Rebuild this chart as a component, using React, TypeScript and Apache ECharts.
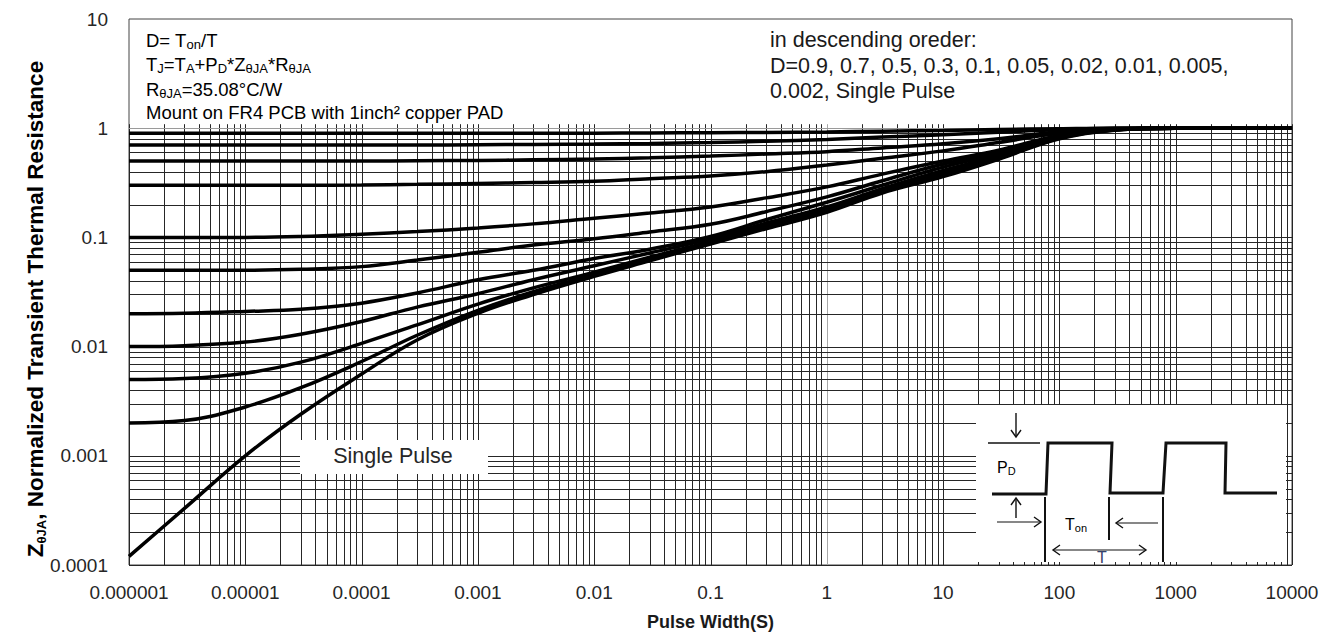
import React, { useEffect, useRef } from "react";
import * as echarts from "echarts";

// ---------- data ----------
const pulseWidth = [1e-6, 3e-6, 1e-5, 3e-5, 1e-4, 3e-4, 1e-3, 3e-3, 1e-2, 3e-2, 1e-1, 3e-1, 1, 3, 10, 30, 100, 300, 1000, 10000];

const dutyNames = ["D=0.9", "D=0.7", "D=0.5", "D=0.3", "D=0.1", "D=0.05", "D=0.02", "D=0.01", "D=0.005", "D=0.002", "Single Pulse"];

const curveD09 = [0.9, 0.9, 0.9, 0.9, 0.9, 0.9, 0.9, 0.9, 0.9, 0.905, 0.91, 0.915, 0.925, 0.94, 0.955, 0.975, 0.99, 1, 1, 1];
const curveD07 = [0.7, 0.7, 0.7, 0.7, 0.7, 0.7, 0.705, 0.71, 0.715, 0.725, 0.74, 0.76, 0.79, 0.83, 0.87, 0.92, 0.97, 1, 1, 1];
const curveD05 = [0.5, 0.5, 0.5, 0.5, 0.5, 0.503, 0.507, 0.513, 0.522, 0.535, 0.555, 0.58, 0.61, 0.66, 0.72, 0.8, 0.93, 0.995, 1, 1];
const curveD03 = [0.3, 0.3, 0.3, 0.3, 0.302, 0.306, 0.312, 0.318, 0.327, 0.345, 0.365, 0.4, 0.46, 0.53, 0.62, 0.74, 0.9, 0.99, 1, 1];
const curveD01 = [0.1, 0.1, 0.1, 0.102, 0.107, 0.113, 0.122, 0.133, 0.15, 0.167, 0.19, 0.23, 0.29, 0.38, 0.5, 0.63, 0.86, 0.985, 1, 1];
const curveD005 = [0.05, 0.05, 0.05, 0.051, 0.054, 0.062, 0.073, 0.085, 0.097, 0.112, 0.132, 0.172, 0.235, 0.33, 0.47, 0.6, 0.85, 0.98, 1, 1];
const curveD002 = [0.02, 0.0202, 0.021, 0.022, 0.025, 0.031, 0.041, 0.05, 0.064, 0.078, 0.102, 0.145, 0.21, 0.3, 0.44, 0.58, 0.84, 0.975, 1, 1];
const curveD001 = [0.01, 0.0102, 0.011, 0.013, 0.017, 0.023, 0.0305, 0.041, 0.055, 0.072, 0.097, 0.135, 0.19, 0.28, 0.41, 0.56, 0.83, 0.97, 1, 1];
const curveD0005 = [0.005, 0.0051, 0.0057, 0.0072, 0.0107, 0.0158, 0.0245, 0.0345, 0.048, 0.066, 0.092, 0.128, 0.18, 0.27, 0.39, 0.54, 0.82, 0.97, 1, 1];
const curveD0002 = [0.002, 0.0021, 0.0028, 0.0042, 0.0073, 0.0127, 0.0215, 0.0318, 0.0455, 0.063, 0.089, 0.124, 0.175, 0.26, 0.37, 0.53, 0.81, 0.965, 1, 1];
const curveSingle = [0.00012, 0.00033, 0.001, 0.0024, 0.0056, 0.0115, 0.0202, 0.03, 0.044, 0.061, 0.087, 0.12, 0.17, 0.255, 0.36, 0.52, 0.8, 0.96, 1, 1];

const curves = [curveD09, curveD07, curveD05, curveD03, curveD01, curveD005, curveD002, curveD001, curveD0005, curveD0002, curveSingle];

const xTickLabels = ["0.000001", "0.00001", "0.0001", "0.001", "0.01", "0.1", "1", "10", "100", "1000", "10000"];
const yTickLabels = ["0.0001", "0.001", "0.01", "0.1", "1", "10"];
const xMinExp = -6;
const xMaxExp = 4;
const yMinExp = -4;
const yMaxExp = 1;
const gridMultipliers = [1, 2, 3, 4, 5, 6, 7, 8, 9];

const FONT = "'Liberation Sans', Arial, Helvetica, sans-serif";
const LABEL_BLUE = "#34406a";

function buildVGrid() {
  const out: number[][] = [];
  for (let e = xMinExp; e < xMaxExp; e++) {
    for (const m of gridMultipliers) {
      out.push([Math.log10(m) + e, 0, e === 0 && m === 1 ? 1 : 0]);
    }
  }
  out.push([xMaxExp, 0, 0]);
  return out;
}
function buildHGrid() {
  const out: number[][] = [];
  for (let e = yMinExp; e < 0; e++) {
    for (const m of gridMultipliers) {
      out.push([xMinExp, Math.log10(m) + e, 0]);
    }
  }
  out.push([xMinExp, 0, 1]);
  return out;
}

function chevron(tx: number, ty: number, dir: "up" | "down" | "left" | "right", z: number) {
  const w = 5;
  const l = 7;
  let pts: number[][];
  if (dir === "down") pts = [[tx - w, ty - l], [tx, ty], [tx + w, ty - l]];
  else if (dir === "up") pts = [[tx - w, ty + l], [tx, ty], [tx + w, ty + l]];
  else if (dir === "right") pts = [[tx - l, ty - w], [tx, ty], [tx - l, ty + w]];
  else pts = [[tx + l, ty - w], [tx, ty], [tx + l, ty + w]];
  return { type: "polyline", z, shape: { points: pts }, style: { stroke: "#111", lineWidth: 1.4, fill: null } };
}
function seg(x1: number, y1: number, x2: number, y2: number, w: number, z: number) {
  return { type: "line", z, shape: { x1, y1, x2, y2 }, style: { stroke: "#111", lineWidth: w } };
}

export default function App() {
  const ref = useRef<HTMLDivElement>(null);
  useEffect(() => {
    document.body.style.margin = "0";
    document.body.style.overflow = "hidden";
    if (!ref.current) return;
    const chart = echarts.init(ref.current, undefined, { renderer: "svg" });

    const lineSeries = curves.map((vals, i) => ({
      type: "line",
      name: dutyNames[i],
      data: pulseWidth.map((x, j) => [Math.log10(x), Math.log10(vals[j])]),
      showSymbol: false,
      symbol: "none",
      smooth: 0.4,
      lineStyle: { color: "#000", width: 3.5 },
      z: 3,
      silent: true,
    }));

    const vGridSeries = {
      type: "custom",
      name: "vgrid",
      coordinateSystem: "cartesian2d",
      silent: true,
      clip: false,
      z: 1,
      data: buildVGrid(),
      renderItem: (params: any, api: any) => {
        const cs = params.coordSys;
        const p = api.coord([api.value(0), 0]);
        const x = Math.round(p[0]) + 0.5;
        const gray = api.value(2) === 1;
        return {
          type: "line",
          shape: { x1: x, y1: p[1] - 4, x2: x, y2: cs.y + cs.height },
          style: { stroke: gray ? "#a8a8a8" : "#262626", lineWidth: 1 },
        };
      },
    };
    const hGridSeries = {
      type: "custom",
      name: "hgrid",
      coordinateSystem: "cartesian2d",
      silent: true,
      clip: false,
      z: 1,
      data: buildHGrid(),
      renderItem: (params: any, api: any) => {
        const cs = params.coordSys;
        const p = api.coord([xMinExp, api.value(1)]);
        const y = Math.round(p[1]) + 0.5;
        const gray = api.value(2) === 1;
        return {
          type: "line",
          shape: { x1: cs.x, y1: y, x2: cs.x + cs.width, y2: y },
          style: { stroke: gray ? "#9a9a9a" : "#262626", lineWidth: 1 },
        };
      },
    };

    const tl = { fontSize: 18.5, fontFamily: FONT, color: "#1a1a1a", lineHeight: 22, verticalAlign: "middle" };
    const tls = { fontSize: 13, fontFamily: FONT, color: "#1a1a1a", lineHeight: 15, verticalAlign: "bottom" };
    const topLeft = (text: string, y: number) => ({
      type: "text",
      z: 10,
      x: 146,
      y,
      style: { text, rich: { n: tl, s: tls }, align: "left", verticalAlign: "middle" },
    });
    const topRight = (text: string, y: number) => ({
      type: "text",
      z: 10,
      x: 770,
      y,
      style: { text, fontSize: 21.5, fontFamily: FONT, fill: "#1a1a1a", align: "left", verticalAlign: "middle" },
    });

    const ib = { fontSize: 16, fontFamily: FONT, color: LABEL_BLUE, lineHeight: 18, verticalAlign: "middle" };
    const ibs = { fontSize: 11, fontFamily: FONT, color: LABEL_BLUE, lineHeight: 11, verticalAlign: "bottom" };

    const graphic: any[] = [
      // y axis title
      {
        type: "text",
        z: 10,
        x: 35,
        y: 309,
        rotation: Math.PI / 2,
        style: {
          text: "{b|Z}{s|θJA}{b|, Normalized Transient Thermal Resistance}",
          align: "center",
          verticalAlign: "middle",
          rich: {
            b: { fontSize: 22.5, fontWeight: "bold", fontFamily: FONT, color: "#1a1a1a", lineHeight: 26, verticalAlign: "middle" },
            s: { fontSize: 13, fontWeight: "bold", fontFamily: FONT, color: "#1a1a1a", lineHeight: 15, verticalAlign: "bottom" },
          },
        },
      },
      topLeft("{n|D= T}{s|on}{n|/T}", 40),
      topLeft("{n|T}{s|J}{n|=T}{s|A}{n|+P}{s|D}{n|*Z}{s|θJA}{n|*R}{s|θJA}", 64),
      topLeft("{n|R}{s|θJA}{n|=35.08°C/W}", 89),
      topLeft("{n|Mount on FR4 PCB with 1inch² copper PAD}", 112),
      topRight("in descending oreder:", 39.5),
      topRight("D=0.9, 0.7, 0.5, 0.3, 0.1, 0.05, 0.02, 0.01, 0.005,", 66),
      topRight("0.002, Single Pulse", 91),
      // Single Pulse label box
      { type: "rect", z: 10, shape: { x: 300, y: 440, width: 188, height: 34 }, style: { fill: "#fff" } },
      {
        type: "text",
        z: 11,
        x: 393,
        y: 456,
        style: { text: "Single Pulse", fontSize: 21.5, fontFamily: FONT, fill: "#262626", align: "center", verticalAlign: "middle" },
      },
      // inset diagram
      { type: "rect", z: 10, shape: { x: 976, y: 405, width: 310, height: 157 }, style: { fill: "#fff" } },
      seg(1016, 413, 1016, 437, 1.4, 11),
      chevron(1016, 437, "down", 11),
      seg(988, 443, 1040, 443, 1.5, 11),
      {
        type: "polyline",
        z: 11,
        shape: {
          points: [[992, 494], [1046, 494], [1048, 443], [1112, 443], [1110, 493], [1163, 493], [1166, 443], [1226, 443], [1225, 493], [1277, 493]],
        },
        style: { stroke: "#111", lineWidth: 3, fill: null, lineJoin: "miter" },
      },
      seg(1016, 518, 1016, 498, 1.4, 11),
      chevron(1016, 498, "up", 11),
      seg(997, 522, 1041, 522, 1.2, 11),
      chevron(1041, 522, "right", 11),
      seg(1045, 497, 1045, 562, 2, 11),
      seg(1109, 497, 1109, 540, 2, 11),
      seg(1163, 497, 1163, 562, 2, 11),
      seg(1158, 523, 1116, 523, 1.2, 11),
      chevron(1116, 523, "left", 11),
      seg(1053, 550, 1146, 550, 1.2, 11),
      chevron(1053, 550, "left", 11),
      chevron(1146, 550, "right", 11),
      {
        type: "text",
        z: 11,
        x: 997,
        y: 467,
        style: { text: "{p|P}{s|D}", rich: { p: ib, s: ibs }, align: "left", verticalAlign: "middle" },
      },
      {
        type: "text",
        z: 11,
        x: 1065,
        y: 524,
        style: { text: "{p|T}{s|on}", rich: { p: ib, s: ibs }, align: "left", verticalAlign: "middle" },
      },
      {
        type: "text",
        z: 11,
        x: 1102,
        y: 557,
        style: { text: "T", fontSize: 16, fontFamily: FONT, fill: LABEL_BLUE, align: "center", verticalAlign: "middle" },
      },
    ];

    chart.setOption({
      animation: false,
      backgroundColor: "#fff",
      grid: {
        left: 129,
        right: 46,
        top: 19,
        bottom: 74,
        show: true,
        borderColor: "#444",
        borderWidth: 1,
        backgroundColor: "transparent",
        containLabel: false,
        outerBoundsMode: "none",
      },
      xAxis: {
        type: "value",
        min: xMinExp,
        max: xMaxExp,
        interval: 1,
        axisLine: { show: false },
        axisTick: { show: false },
        splitLine: { show: false },
        axisLabel: {
          showMinLabel: true,
          showMaxLabel: true,
          fontSize: 19,
          fontFamily: FONT,
          color: "#262626",
          margin: 18,
          formatter: (v: number) => xTickLabels[Math.round(v) - xMinExp] ?? "",
        },
        name: "Pulse Width(S)",
        nameLocation: "middle",
        nameGap: 48,
        nameTextStyle: { fontSize: 18, fontWeight: "bold", fontFamily: FONT, color: "#1a1a1a" },
      },
      yAxis: {
        type: "value",
        min: yMinExp,
        max: yMaxExp,
        interval: 1,
        axisLine: { show: false },
        axisTick: { show: false },
        splitLine: { show: false },
        axisLabel: {
          showMinLabel: true,
          showMaxLabel: true,
          fontSize: 19,
          fontFamily: FONT,
          color: "#262626",
          margin: 21,
          formatter: (v: number) => yTickLabels[Math.round(v) - yMinExp] ?? "",
        },
      },
      series: [vGridSeries, hGridSeries, ...lineSeries],
      graphic,
    });

    return () => {
      chart.dispose();
    };
  }, []);

  return <div ref={ref} style={{ width: 1338, height: 639 }} />;
}
